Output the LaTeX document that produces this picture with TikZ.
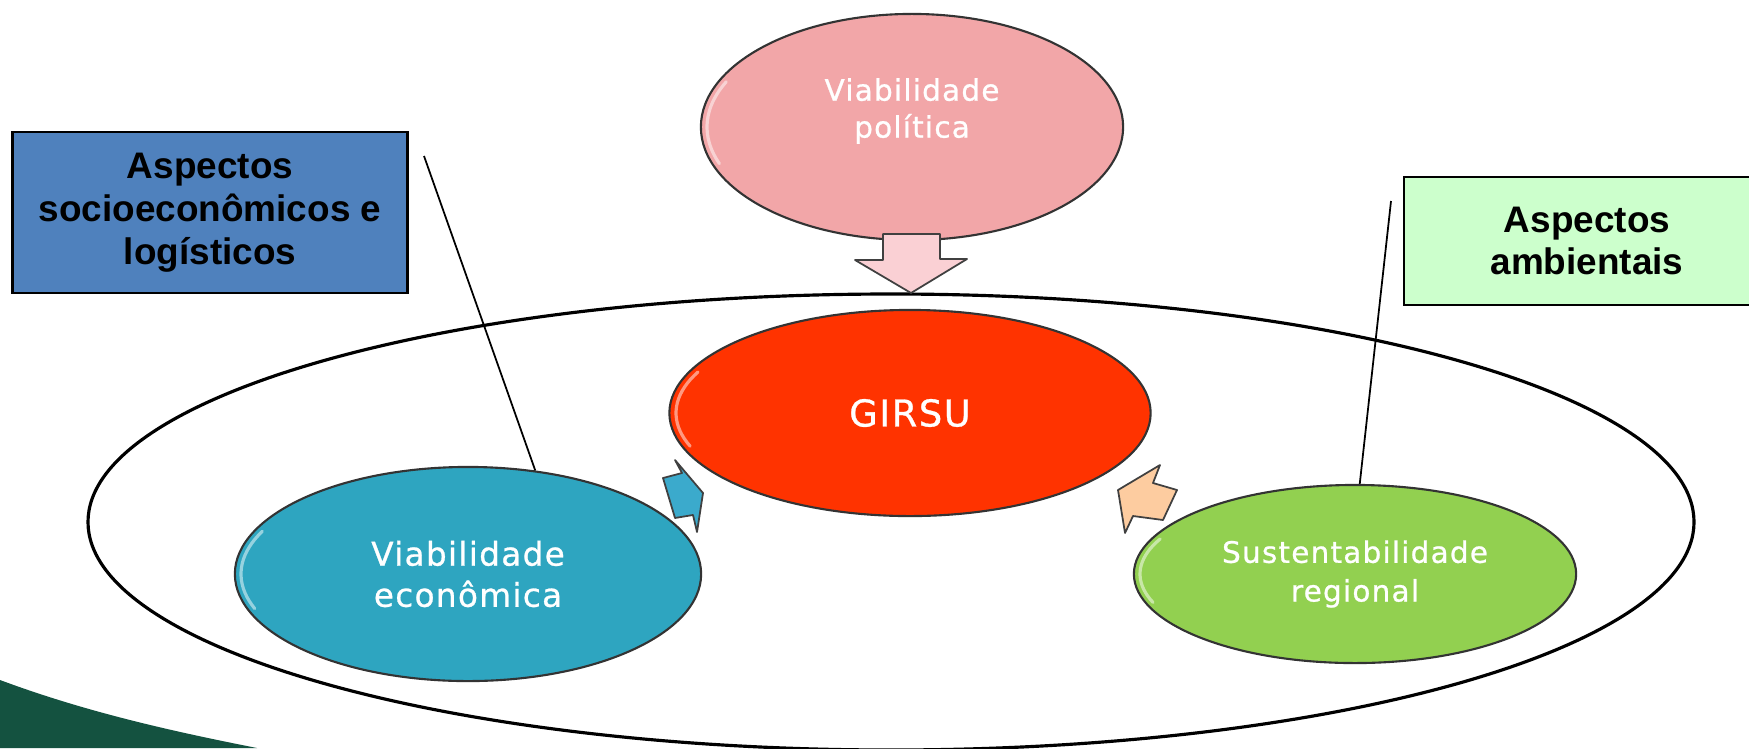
\documentclass[tikz,border=0pt]{standalone}
\usepackage{fontspec}
\setmainfont{Liberation Sans}
\newfontfamily\bubblefont[LetterSpace=4, FakeBold=0.8]{DejaVu Sans}
\usetikzlibrary{positioning, shapes.geometric}

\definecolor{polpink}{RGB}{242,166,168}
\definecolor{girsured}{RGB}{255,51,0}
\definecolor{econblue}{RGB}{46,165,192}
\definecolor{sustgreen}{RGB}{146,208,80}
\definecolor{boxblue}{RGB}{79,129,189}
\definecolor{boxgreen}{RGB}{204,255,204}
\definecolor{cornergreen}{RGB}{20,82,64}
\definecolor{arrpink}{RGB}{250,208,212}
\definecolor{arrblue}{RGB}{59,170,204}
\definecolor{arrpeach}{RGB}{253,204,160}

\tikzset{
  bubble/.style={ellipse, draw=black!80, line width=0.6pt, inner sep=0pt, text=white, align=center},
  bubbletext/.style={text=white, align=center, inner sep=0pt},
  gloss/.style={white, line width=0.9pt, opacity=0.5, line cap=round},
  aspectbox/.style={rectangle, draw=black, line width=0.8pt, inner sep=0pt, align=center,
    font=\bfseries\fontsize{10.5}{12.2}\selectfont},
  blockarrow/.style={draw=black!75, line width=0.5pt, line join=round},
}

\begin{document}
\begin{tikzpicture}[x=0.01cm, y=-0.01cm]
        \useasboundingbox (0,0) rectangle (1749,748);

        % Dark corner at the bottom left
        \fill[cornergreen] (0,680) .. controls (86,712) and (171,731) .. (257,748) -- (0,748) -- cycle;

        % Draw the outer ellipse
        \draw[line width=0.9pt] (891,522) ellipse [x radius=803, y radius=228];

        % Draw the four bubbles
        \node[bubble, fill=polpink, minimum width=4.22cm, minimum height=2.26cm] (pol) at (912,127) {};
        \node[bubbletext, font=\bubblefont\fontsize{8.4}{10.5}\selectfont] (poltext) at (912,111) {Viabilidade\\política};

        \node[bubble, fill=girsured, minimum width=4.81cm, minimum height=2.06cm,
              font=\bubblefont\fontsize{10.5}{12}\selectfont] (girsu) at (910,413) {GIRSU};

        \node[bubble, fill=econblue, minimum width=4.66cm, minimum height=2.14cm,
              font=\bubblefont\fontsize{9.3}{11.7}\selectfont] (econ) at (468,574) {Viabilidade\\econômica};

        \node[bubble, fill=sustgreen, minimum width=4.42cm, minimum height=1.78cm,
              font=\bubblefont\fontsize{8.4}{11}\selectfont] (sust) at (1355,574) {Sustentabilidade\\regional};

        % Glossy edges of the bubbles
        \draw[gloss] plot[domain=160:205, samples=20] ({912+205*cos(\x)}, {127+107*sin(\x)});
        \draw[gloss] plot[domain=160:205, samples=20] ({910+234*cos(\x)}, {413+97*sin(\x)});
        \draw[gloss] plot[domain=160:205, samples=20] ({468+227*cos(\x)}, {574+101*sin(\x)});
        \draw[gloss] plot[domain=160:205, samples=20] ({1355+215*cos(\x)}, {574+83*sin(\x)});

        % Draw the block arrows towards GIRSU
        \filldraw[blockarrow, fill=arrpink] (883,234) -- (940,234) -- (940,259) -- (967,259)
              -- (911,293) -- (855,260) -- (883,260) -- cycle;
        \filldraw[blockarrow, fill=arrblue] (675,460) -- (682,473) -- (663,478) -- (675,518)
              -- (693,515) -- (697,532) -- (703,493) -- cycle;
        \filldraw[blockarrow, fill=arrpeach] (1160,465) -- (1153,483) -- (1177,490) -- (1163,520)
              -- (1133,516) -- (1125,533) -- (1118,490) -- cycle;

        % Draw the two aspect boxes
        \node[aspectbox, fill=boxblue, minimum width=3.94cm, minimum height=1.61cm] (socio) at (210,212.5)
              {Aspectos\\socioeconômicos e\\logísticos};
        \node[aspectbox, fill=boxgreen, minimum width=3.66cm, minimum height=1.28cm] (amb) at (1587,241)
              {Aspectos\\ambientais};

        % Draw the pointer lines
        \coordinate (socioend) at (424,156);
        \coordinate (ambend) at (1391,201);
        \draw[line width=0.5pt] (socioend) -- (econ.57);
        \draw[line width=0.5pt] (ambend) -- (sust.87);
\end{tikzpicture}
\end{document}
